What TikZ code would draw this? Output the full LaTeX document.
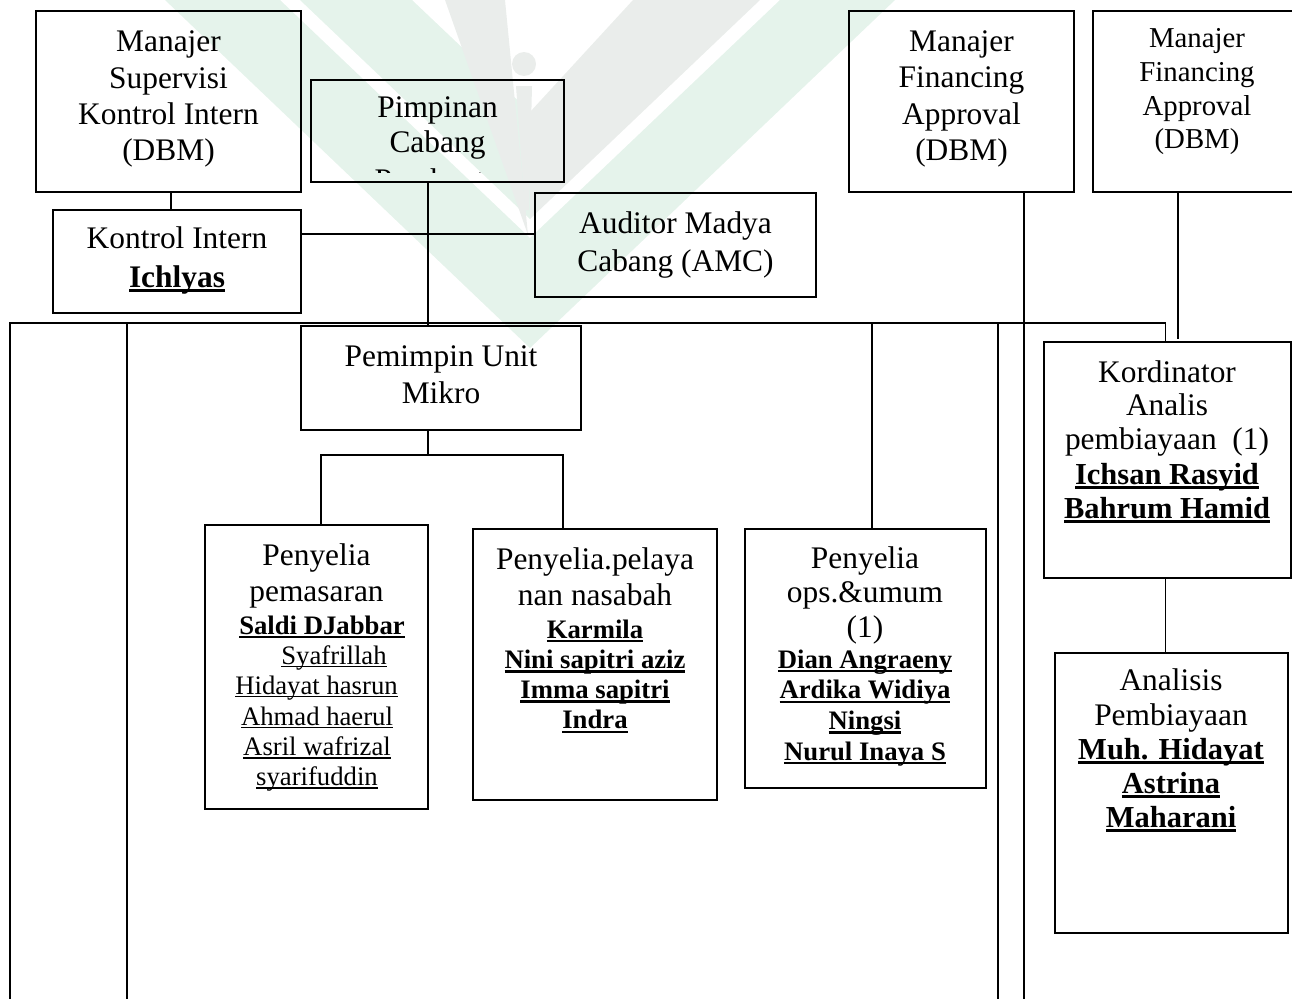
\documentclass[tikz,border=0pt]{standalone}
\usepackage{fontspec}
\setmainfont{Liberation Serif}

% underlined names: rule drawn just below the baseline, as wide as the word
\newlength\ulwd
\newcommand\ulbold[1]{\settowidth\ulwd{#1}\rlap{\rule[-0.16em]{\ulwd}{0.09em}}#1}
\newcommand\ulreg[1]{\settowidth\ulwd{#1}\rlap{\rule[-0.13em]{\ulwd}{0.06em}}#1}
% box given by its top-left and bottom-right corners
\newcommand\orgbox[5]{\node[box, minimum width={#4-#2}, minimum height={#5-#3}] (#1) at (#2,#3) {};}

\definecolor{wmgreen}{RGB}{229,243,235}
\definecolor{wmgrey}{RGB}{234,237,235}

\begin{document}
\begin{tikzpicture}[x=1pt,y=-1pt,
  box/.style={draw, line width=1.8pt, inner sep=0pt, outer sep=0pt, anchor=north west},
  link/.style={line width=1.3pt},
  bus/.style={line width=1.6pt},
  hd/.style={inner sep=0pt, anchor=base, font=\fontsize{31.4}{36}\selectfont},
  hdb/.style={inner sep=0pt, anchor=base, font=\fontsize{31.4}{36}\selectfont\bfseries},
  hds/.style={inner sep=0pt, anchor=base, font=\fontsize{28.8}{34}\selectfont},
  nm/.style={inner sep=0pt, anchor=base, font=\fontsize{26.7}{30}\selectfont},
  nmb/.style={inner sep=0pt, anchor=base, font=\fontsize{26.7}{30}\selectfont\bfseries},
  nmB/.style={inner sep=0pt, anchor=base, font=\fontsize{30.5}{34}\selectfont\bfseries},
]
\useasboundingbox (0,0) rectangle (1292,998);
\clip (0,0) rectangle (1292,998);

% faint logo in the background
\fill[wmgreen] (165,0) -- (280,0) -- (530,238) -- (780,0) -- (895,0) -- (530,348) -- cycle;
\fill[wmgreen] (300,0) -- (412,0) -- (530,112) -- (530,219) -- cycle;
\fill[wmgrey] (633,0) -- (760,0) -- (530,219) -- (530,112) -- cycle;
\fill[wmgrey] (445,0) -- (505,0) -- (528,235) -- cycle;
\fill[wmgrey] (524,64) circle (12);
\fill[wmgrey] (516,86) -- (532,86) -- (529,210) -- (525,210) -- cycle;

% boxes
\orgbox{mski}{36}{11}{301}{192}
\orgbox{ki}{53}{210}{301}{313}
\orgbox{pc}{311}{80}{564}{182}
\orgbox{amc}{535}{193}{816}{297}
\orgbox{mfa}{849}{11}{1074}{192}
\orgbox{mfb}{1093}{11}{1301}{192}
\orgbox{pum}{301}{326}{581}{430}
\orgbox{pp}{205}{525}{428}{809}
\orgbox{pn}{473}{529}{717}{800}
\orgbox{po}{745}{529}{986}{788}
\orgbox{ka}{1044}{342}{1291}{578}
\orgbox{ap}{1055}{653}{1288}{933}

% points the connectors run through
\coordinate (bottom) at (0,1000);
\coordinate (xki) at (171,0);
\coordinate (yam) at (0,234);
\coordinate (spine) at (428,0);
\coordinate (busL) at (10,323);
\coordinate (busR) at (1165.5,323);
\coordinate (cA) at (127,323);
\coordinate (cB) at (872,323);
\coordinate (cC) at (998,323);
\coordinate (xmf) at (1024,0);
\coordinate (mbEnd) at (1178,339);
\coordinate (fork) at (428,455);
\coordinate (fL) at (321,455);
\coordinate (fR) at (563,455);

% connectors
\draw[link] (mski.south -| xki) -- (ki.north -| xki);
\draw[link] (ki.east |- yam) -- (amc.west |- yam);
\draw[link] (pc.south -| spine) -- (pum.north -| spine);
\draw[bus] (bottom -| busL) -- (busL) -- (busR) -- (ka.north -| busR);
\draw[link] (cA) -- (bottom -| cA);
\draw[link] (cB) -- (po.north -| cB);
\draw[link] (cC) -- (bottom -| cC);
\draw[link] (mfa.south -| xmf) -- (bottom -| xmf);
\draw[link] (mfb.south -| mbEnd) -- (mbEnd);
\draw[link] (pum.south -| spine) -- (fork);
\draw[link] (pp.north -| fL) -- (fL) -- (fR) -- (pn.north -| fR);
\draw[link] (ka.south -| busR) -- (ap.north -| busR);

% texts
\foreach \t [count=\i from 0] in {Manajer, Supervisi, Kontrol Intern, (DBM)}
  \node[hd] (mski-\i) at (168.5,{52+36.3*\i}) {\t};
\node[hd] (ki-0) at (177,248) {Kontrol Intern};
\node[hdb] (ki-1) at (177,287) {\ulbold{Ichlyas}};

\node[hd] (pc-0) at (437.5,117) {Pimpinan};
\node[hd] (pc-1) at (437.5,152) {Cabang};
% third line runs past the box and is cut off
\begin{scope}
  \clip (311,80) rectangle (564,172);
  \node[hd] (pc-2) at (437.5,190) {Pembantu};
\end{scope}

\node[hd] (amc-0) at (675.5,233) {Auditor Madya};
\node[hd] (amc-1) at (675.5,271) {Cabang (AMC)};

\foreach \t [count=\i from 0] in {Manajer, Financing, Approval, (DBM)}
  \node[hd] (mfa-\i) at (961.5,{52+36*\i}) {\t};
\foreach \t [count=\i from 0] in {Manajer, Financing, Approval, (DBM)}
  \node[hds] (mfb-\i) at (1197,{48+33.5*\i}) {\t};

\node[hd] (pum-0) at (441,366) {Pemimpin Unit};
\node[hd] (pum-1) at (441,403) {Mikro};

\node[hd] (pp-0) at (316.5,565.5) {Penyelia};
\node[hd] (pp-1) at (316.5,601.5) {pemasaran};
\node[nmb] (pp-2) at (322,634) {\ulbold{Saldi DJabbar}};
\node[nm] (pp-3) at (334,664) {\ulreg{Syafrillah}};
\node[nm] (pp-4) at (316.5,694) {\ulreg{Hidayat hasrun}};
\node[nm] (pp-5) at (317,725) {\ulreg{Ahmad haerul}};
\node[nm] (pp-6) at (317,755.5) {\ulreg{Asril wafrizal}};
\node[nm] (pp-7) at (317,785.5) {\ulreg{syarifuddin}};

\node[hd] (pn-0) at (595,569) {Penyelia.pelaya};
\node[hd] (pn-1) at (595,605) {nan nasabah};
\foreach \t [count=\i from 2] in {Karmila, Nini sapitri aziz, Imma sapitri, Indra}
  \node[nmb] (pn-\i) at (595,{638+30.3*(\i-2)}) {\ulbold{\t}};

\node[hd] (po-0) at (865,568) {Penyelia};
\node[hd] (po-1) at (865,602) {ops.\&umum};
\node[hd] (po-2) at (865,637) {(1)};
\foreach \t [count=\i from 3] in {Dian Angraeny, Ardika Widiya, Ningsi, Nurul Inaya S}
  \node[nmb] (po-\i) at (865,{668+30.7*(\i-3)}) {\ulbold{\t}};

\node[hd] (ka-0) at (1167,382) {Kordinator};
\node[hd] (ka-1) at (1167,415.5) {Analis};
\node[hd] (ka-2) at (1167,449.5) {pembiayaan\ \ (1)};
\node[nmB] (ka-3) at (1167,484) {\ulbold{Ichsan Rasyid}};
\node[nmB] (ka-4) at (1167,518) {\ulbold{Bahrum Hamid}};

\node[hd] (ap-0) at (1171,690) {Analisis};
\node[hd] (ap-1) at (1171,725) {Pembiayaan};
\foreach \t [count=\i from 2] in {Muh. Hidayat, Astrina, Maharani}
  \node[nmB] (ap-\i) at (1171,{759+34*(\i-2)}) {\ulbold{\t}};
\end{tikzpicture}
\end{document}
